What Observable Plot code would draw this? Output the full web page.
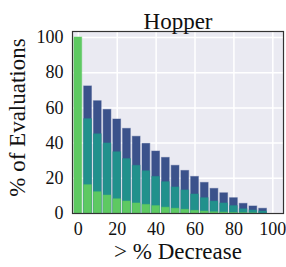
<!DOCTYPE html>
<html><head><meta charset="utf-8">
<script src="https://cdn.jsdelivr.net/npm/d3@7"></script>
<script src="https://cdn.jsdelivr.net/npm/@observablehq/plot@0.6"></script>
<style>
html,body{margin:0;padding:0;background:#fff;}
</style></head>
<body><div id="chart"></div>
<script>
const decrease = [0,5,10,15,20,25,30,35,40,45,50,55,60,65,70,75,80,85,90,95];
const total  = [100,72.2,63.8,58.9,53.4,48.1,43.6,39.6,35.2,31.6,27.1,24.2,20.8,17.4,14.0,11.5,8.7,5.5,4.0,2.7];
const middle = [100,53.6,45.0,39.8,34.8,30.9,27.1,24.0,20.8,17.8,14.8,13.1,10.8,8.7,6.8,5.7,4.2,2.4,1.7,1.1];
const low    = [100,16.1,12.1,10.2,8.1,6.8,5.7,4.9,4.2,3.3,2.7,2.1,1.5,1.1,0.7,0.5,0.3,0.2,0.1,0.0];
const xTicks = [0,20,40,60,80,100];
const yTicks = [0,20,40,60,80,100];

const data = decrease.map((x,i)=>({x, total: total[i], middle: middle[i], low: low[i]}));
const hw = 2.0;
const barOpts = (key, color) => ({
  x1: d=>d.x-hw, x2: d=>d.x+hw, y1: 0, y2: key,
  fill: color, stroke: color, strokeOpacity: 0.45, strokeWidth: 1
});
const font = "'Liberation Serif', 'Times New Roman', serif";

const chart = Plot.plot({
  width: 286, height: 267,
  marginLeft: 72, marginRight: 3, marginTop: 31, marginBottom: 54,
  style: {fontFamily: font, color: "#111", background: "#fff", overflow: "visible"},
  x: {domain: [-3, 105.5], axis: null},
  y: {domain: [0, 103.4], axis: null},
  marks: [
    Plot.frame({fill: "#eaeaf2", stroke: "none"}),
    Plot.gridX(xTicks, {stroke: "#fff", strokeOpacity: 1, strokeWidth: 1.5}),
    Plot.gridY(yTicks, {stroke: "#fff", strokeOpacity: 1, strokeWidth: 1.5}),
    Plot.rectY(data.filter(d=>d.x>0), barOpts("total", "#3b528b")),
    Plot.rectY(data.filter(d=>d.x>0), barOpts("middle", "#21918c")),
    Plot.rectY(data, barOpts("low", "#5ec962")),
    Plot.frame({stroke: "#333", strokeWidth: 1.2}),
    Plot.axisX(xTicks, {tickSize: 0, tickPadding: 9, fontSize: 18, label: null, fill: "#111"}),
    Plot.axisY(yTicks, {tickSize: 0, tickPadding: 9, fontSize: 18, label: null, fill: "#111"}),
    Plot.text(["> % Decrease"], {frameAnchor: "bottom", dy: 45, fontSize: 23, fill: "#111"}),
    Plot.text(["% of Evaluations"], {frameAnchor: "left", textAnchor: "middle", dx: -55, dy: -5, rotate: -90, fontSize: 23, fill: "#111"}),
    Plot.text(["Hopper"], {frameAnchor: "top", dy: -19, fontSize: 23, fill: "#111"})
  ]
});
document.getElementById("chart").append(chart);
</script></body></html>
